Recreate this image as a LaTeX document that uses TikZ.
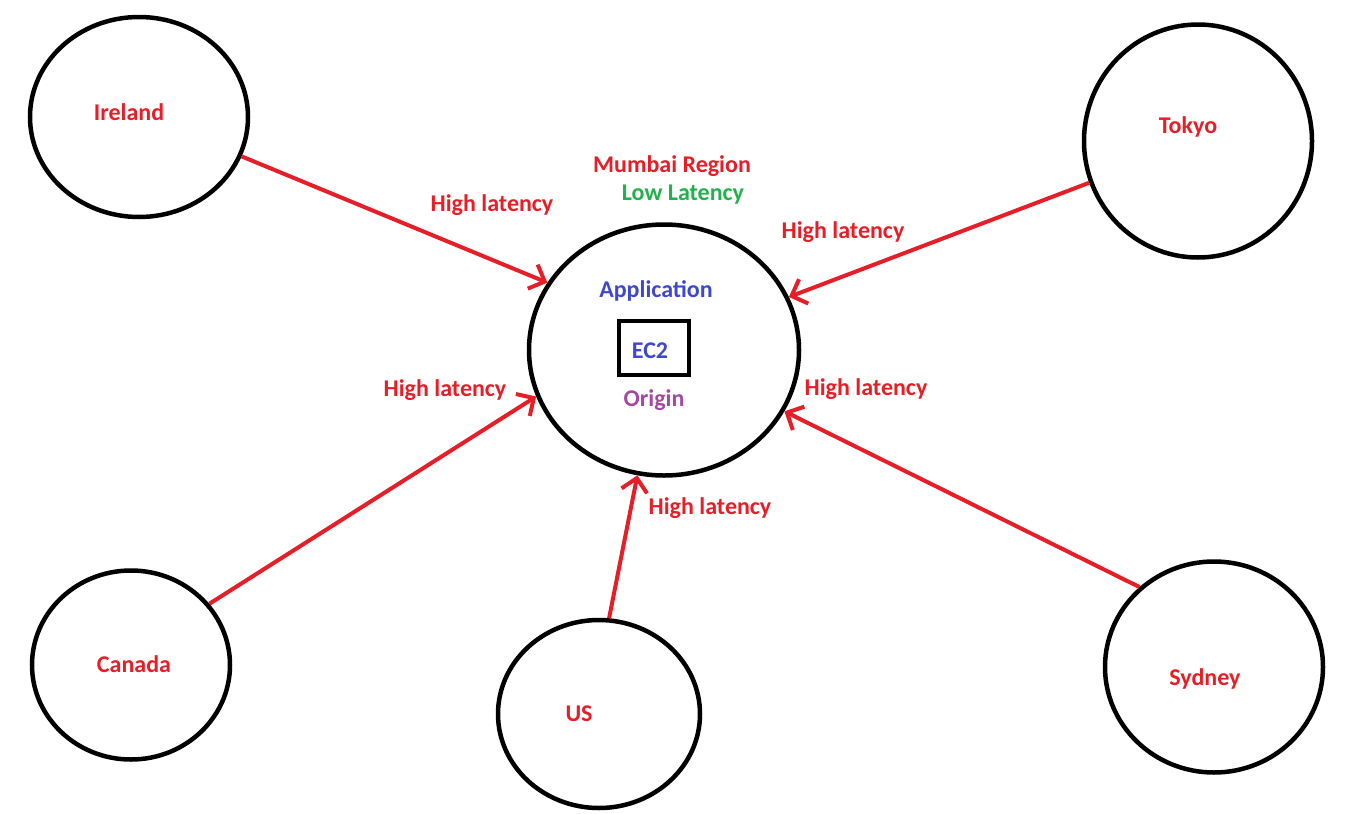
\documentclass[tikz,border=0pt]{standalone}
\usepackage{fontspec}
\setmainfont{Carlito}
\usetikzlibrary{shapes.geometric,arrows.meta}
\definecolor{pred}{RGB}{230,30,40}
\definecolor{pgreen}{RGB}{34,177,76}
\definecolor{pblue}{RGB}{63,72,204}
\definecolor{ppurple}{RGB}{163,73,164}
\tikzset{
  region/.style={draw=black, line width=4.5pt, ellipse, inner sep=0pt},
  lbl/.style={font=\bfseries\fontsize{24}{26}\selectfont, text=pred, inner sep=0pt},
  link/.style={draw=pred, line width=4pt, -{Straight Barb[length=13pt,width=26pt,line width=4pt]}},
}
\begin{document}
\begin{tikzpicture}[x=1pt,y=-1pt]
\useasboundingbox (0,0) rectangle (1347,814);
% circles
\node[region, minimum width=218pt, minimum height=200pt] (ireland) at (139,117) {};
\node[region, minimum width=228pt, minimum height=233pt] (tokyo) at (1198,141) {};
\node[region, minimum width=270pt, minimum height=251pt] (mumbai) at (664,350) {};
\node[region, minimum width=198pt, minimum height=189pt] (canada) at (131,665) {};
\node[region, minimum width=202pt, minimum height=188pt] (us) at (599,714) {};
\node[region, minimum width=218pt, minimum height=211pt] (sydney) at (1214,667) {};
% EC2 box
\node[draw=black, line width=4.5pt, minimum width=70pt, minimum height=54pt, inner sep=0pt] (ec2box) at (654,348) {};
% names
\node[lbl] (tIreland) at (129,112) {Ireland};
\node[lbl] (tTokyo) at (1188,127) {Tokyo};
\node[lbl] (tCanada) at (134,664) {Canada};
\node[lbl] (tUS) at (579,714) {US};
\node[lbl] (tSydney) at (1205,679) {Sydney};
\node[lbl] (tMumbai) at (672,166) {Mumbai Region};
\node[lbl, text=pgreen] (tLow) at (683,195) {Low Latency};
\node[lbl, text=pblue] (tApp) at (656,291) {Application};
\node[lbl, text=pblue] (tEC2) at (650,351) {EC2};
\node[lbl, text=ppurple] (tOrigin) at (654,400) {Origin};
% latency labels
\node[lbl] (l1) at (492,205) {High latency};
\node[lbl] (l2) at (843,232) {High latency};
\node[lbl] (l3) at (445,390) {High latency};
\node[lbl] (l4) at (866,389) {High latency};
\node[lbl] (l5) at (710,508) {High latency};
% connectors
\draw[link] (ireland.-21) -- (mumbai.150.7);
\draw[link] (tokyo.-159) -- (mumbai.23.4);
\draw[link] (canada.38.4) -- (mumbai.200.7);
\draw[link] (us.84.6) -- (mumbai.-102);
\draw[link] (sydney.133) -- (mumbai.-27);
\end{tikzpicture}
\end{document}
